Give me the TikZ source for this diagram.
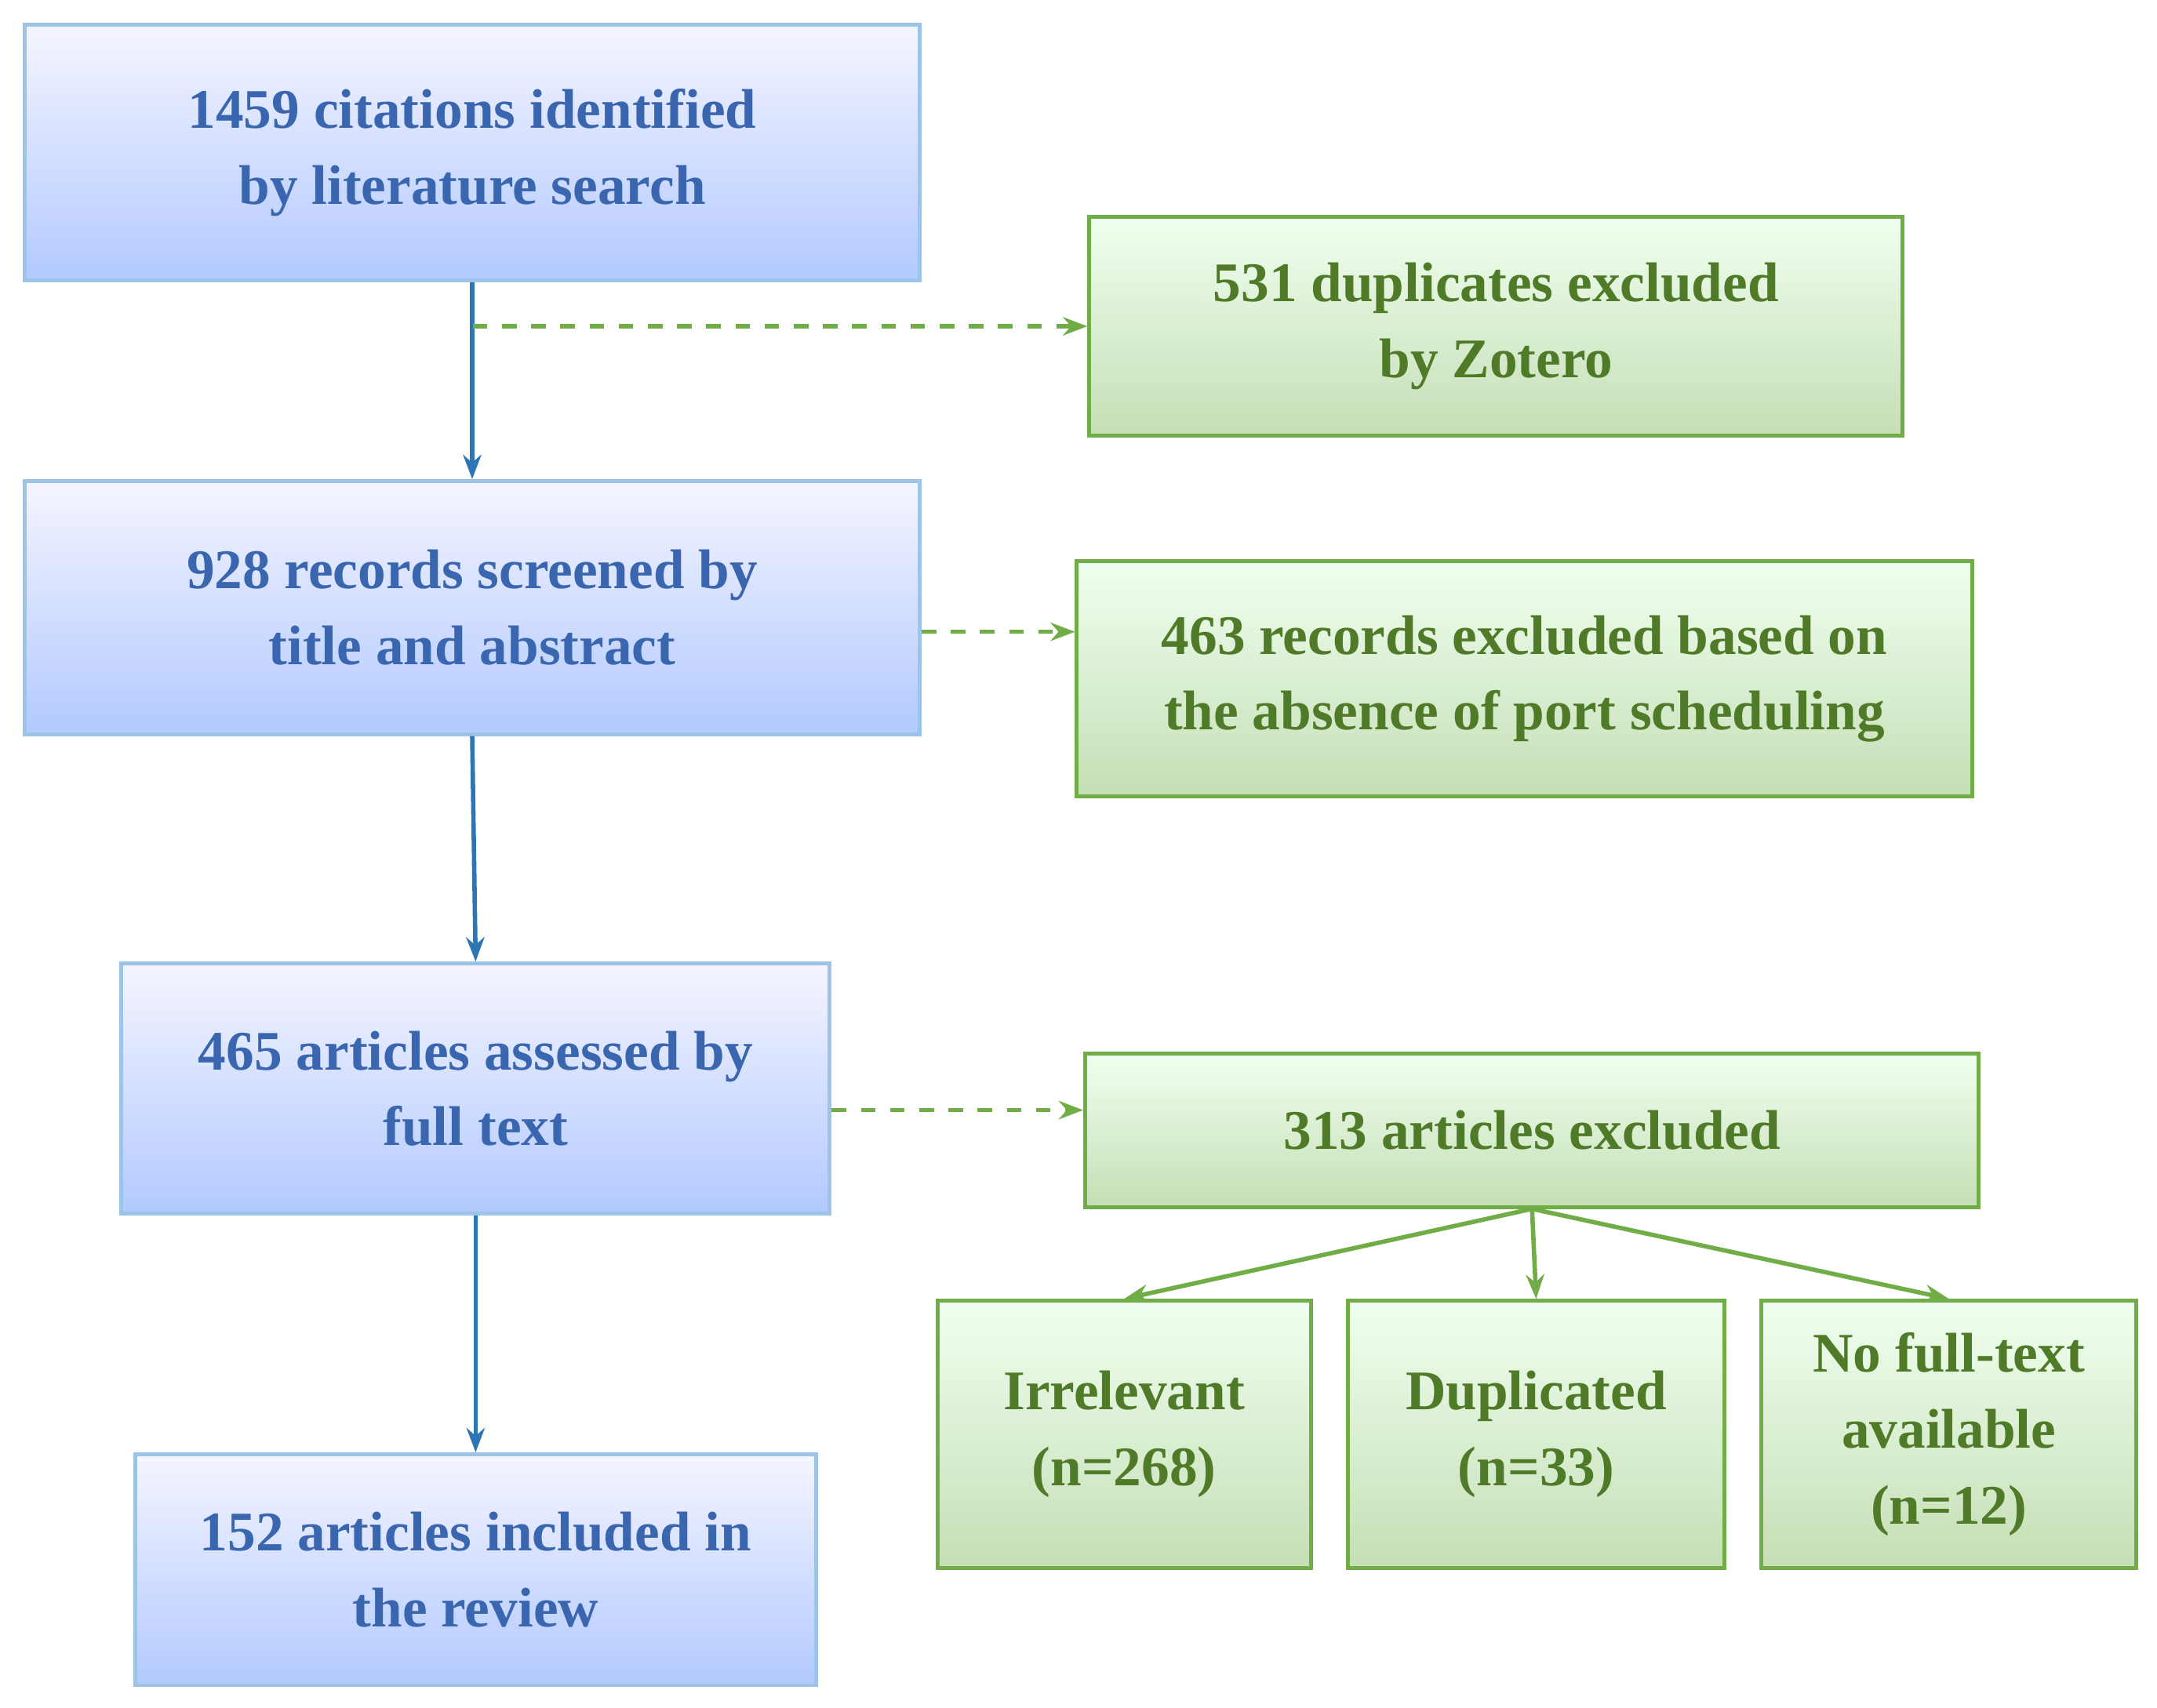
\documentclass[tikz,border=0pt]{standalone}
\usepackage{fontspec}
\setmainfont{Liberation Serif}
\usetikzlibrary{positioning, arrows.meta}
\definecolor{bluetext}{HTML}{3A66B0}
\definecolor{blueline}{HTML}{9DC3E6}
\definecolor{bluearrow}{HTML}{2E75B6}
\definecolor{greentext}{HTML}{4F7A28}
\definecolor{greenline}{HTML}{70AD47}
\tikzset{
  bluebox/.style={draw=blueline, line width=0.8pt, top color=blue!4, bottom color=blue!40!cyan!18!white!85!blue,
    font=\fontsize{11.5}{15.6}\selectfont\bfseries, text=bluetext, align=center, inner sep=0pt},
  greenbox/.style={draw=greenline, line width=0.8pt, top color=green!6!white, bottom color=greenline!40,
    font=\fontsize{11.5}{15.6}\selectfont\bfseries, text=greentext, align=center, inner sep=0pt},
  flow/.style={-{Stealth[length=5pt]}, bluearrow, line width=0.9pt},
  skip/.style={-{Stealth[length=5pt]}, greenline, dashed, line width=0.9pt},
  split/.style={-{Stealth[length=5pt]}, greenline, line width=0.9pt}
}
\begin{document}
\begin{tikzpicture}[x=0.01cm, y=-0.01cm]
\useasboundingbox (0,0) rectangle (1560,1235);
% main column
\node[bluebox, minimum width=6.47cm, minimum height=1.85cm] (search) at (341.5,110.5) {1459 citations identified\\by literature search};
\node[bluebox, minimum width=6.47cm, minimum height=1.83cm] (screen) at (341.5,439.5) {928 records screened by\\title and abstract};
\node[bluebox, minimum width=5.12cm, minimum height=1.81cm] (full) at (344,787.5) {465 articles assessed by\\full text};
\node[bluebox, minimum width=4.92cm, minimum height=1.67cm] (review) at (344,1135.5) {152 articles included in\\the review};
% exclusions
\node[greenbox, minimum width=5.88cm, minimum height=1.58cm] (dup) at (1082,236) {531 duplicates excluded\\by Zotero};
\node[greenbox, minimum width=6.47cm, minimum height=1.70cm] (absent) at (1102.5,491) {463 records excluded based on\\the absence of port scheduling};
\node[greenbox, minimum width=6.46cm, minimum height=1.11cm] (excl) at (1108,817.5) {313 articles excluded};
\node[greenbox, minimum width=2.70cm, minimum height=1.93cm] (irr) at (813,1037.5) {Irrelevant\\(n=268)};
\node[greenbox, minimum width=2.72cm, minimum height=1.93cm] (dupl) at (1111,1037.5) {Duplicated\\(n=33)};
\node[greenbox, minimum width=2.71cm, minimum height=1.93cm] (nofull) at (1409.5,1037.5) {No full-text\\available\\(n=12)};
\coordinate (fork) at (342,236);
\draw[flow] (search) -- (screen);
\draw[skip] (fork) -- (dup.west);
\draw[flow] (screen.south) -- (full.north);
\draw[skip] (screen.east |- 0,457) -- (absent.west |- 0,457);
\draw[flow] (full) -- (review);
\draw[skip] (full.east |- 0,803) -- (excl.west |- 0,803);
\draw[split] (excl.south) -- (irr.north);
\draw[split] (excl.south) -- (dupl.north);
\draw[split] (excl.south) -- (nofull.north);
\end{tikzpicture}
\end{document}
